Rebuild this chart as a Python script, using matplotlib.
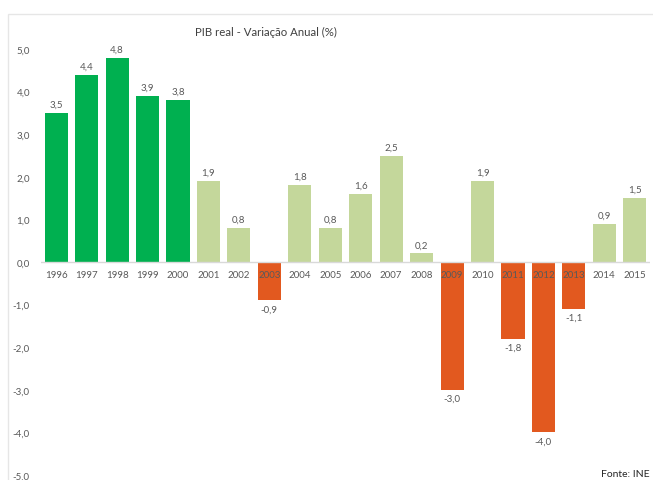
import matplotlib
matplotlib.use("Agg")
import matplotlib.pyplot as plt
import matplotlib.transforms as mtransforms
from matplotlib.patches import Rectangle

years = [str(y) for y in range(1996, 2016)]
values = [3.5, 4.4, 4.8, 3.9, 3.8, 1.9, 0.8, -0.9, 1.8, 0.8, 1.6, 2.5, 0.2,
          -3.0, 1.9, -1.8, -4.0, -1.1, 0.9, 1.5]
yticks = [5, 4, 3, 2, 1, 0, -1, -2, -3, -4, -5]
title = "PIB real - Variação Anual (%)"
source = "Fonte: INE"

DARK = "#00B050"
LIGHT = "#C4D79B"
ORANGE = "#E2591F"
GREY = "#595959"

plt.rcParams['font.family'] = ['Lato', 'DejaVu Sans']

W, H = 653, 481
fig = plt.figure(figsize=(W / 100, H / 100), dpi=100)

# chart border
fig.patches.append(Rectangle((8 / W, -0.1), 1.0, (H - 15) / H + 0.1,
                             transform=fig.transFigure, fill=False,
                             edgecolor="#E6E6E6", linewidth=1.0))

ax = fig.add_axes([41 / W, (H - 476) / H, (650 - 41) / W, (476 - 50) / H])

colors = []
for i, v in enumerate(values):
    if v < 0:
        colors.append(ORANGE)
    elif int(years[i]) <= 2000:
        colors.append(DARK)
    else:
        colors.append(LIGHT)

x = list(range(len(values)))
ax.bar(x, values, width=0.76, color=colors, zorder=1)
ax.set_xlim(-0.5, len(values) - 0.5)
ax.set_ylim(-5, 5)

ax.axhline(0, color="#D9D9D9", linewidth=1.0, zorder=2)

shift = ax.transData + mtransforms.ScaledTranslation(0, -12.5 / 100, fig.dpi_scale_trans)
for xi, v in zip(x, values):
    lab = f"{v:.1f}".replace(".", ",")
    if v >= 0:
        ax.annotate(lab, (xi, v), xytext=(0, 3), textcoords="offset points",
                    ha="center", va="bottom", fontsize=7, color=GREY)
    else:
        ax.annotate(lab, (xi, v), xytext=(0, -3), textcoords="offset points",
                    ha="center", va="top", fontsize=7, color=GREY)
    ax.text(xi, 0, years[xi], transform=shift, ha="center", va="center",
            fontsize=7, color=GREY, zorder=5)

ax.set_xticks([])
ax.set_yticks(yticks)
ax.set_yticklabels([f"{v:.1f}".replace(".", ",") for v in yticks], fontsize=7, color=GREY)
ax.tick_params(axis="y", length=0, pad=8)
for s in ax.spines.values():
    s.set_visible(False)

fig.text(266 / W, 1 - 32 / H, title, ha="center", va="center", fontsize=8.2, color="#404040")
fig.text(650 / W, 1 - 475 / H, source, ha="right", va="center", fontsize=7.5, color="#262626")

fig.savefig("out.png", dpi=100)
